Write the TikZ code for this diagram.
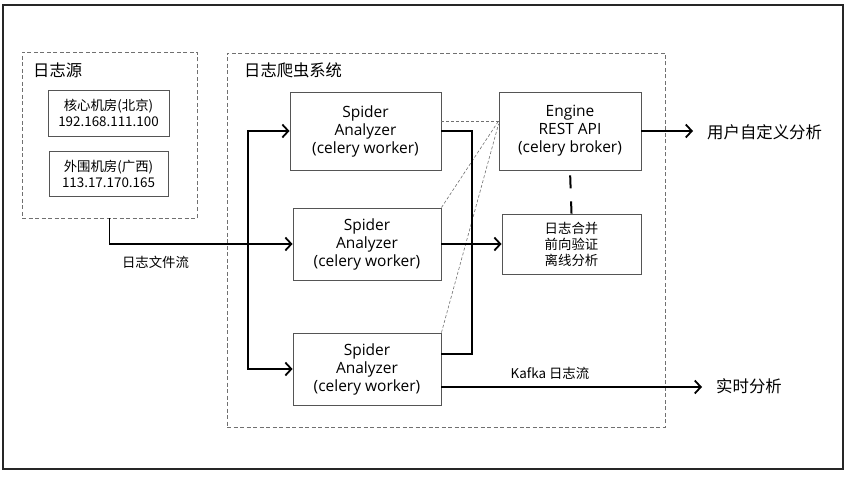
\documentclass[tikz,border=0pt]{standalone}
\usepackage{fontspec}
\setmainfont{Open Sans}
\newfontfamily\cjk{Noto Sans CJK SC}
\usetikzlibrary{arrows.meta}
\definecolor{boxline}{HTML}{555555}
\definecolor{dashline}{HTML}{707070}
\tikzset{
  x=1pt, y=-1pt,
  box/.style={draw=boxline, line width=0.9pt, rectangle, inner sep=0pt, align=center},
  spbox/.style={box, font=\fontsize{15.5}{18}\selectfont},
  cnbox/.style={box, font=\cjk\fontsize{13.4}{16}\selectfont},
  group/.style={draw=dashline, line width=0.8pt, dash pattern=on 4pt off 2.5pt, rectangle, inner sep=0pt},
  title/.style={font=\cjk\fontsize{16.3}{18}\selectfont, anchor=west, inner sep=0pt},
  lbl/.style={font=\cjk\fontsize{13.4}{16}\selectfont, inner sep=0pt},
  flow/.style={line width=1.8pt, black},
  arr/.style={flow, -{Straight Barb[length=6pt,width=13pt,line width=1.8pt]}},
  thin dash/.style={draw=dashline, line width=0.6pt, dash pattern=on 3pt off 2pt},
}
\begin{document}
\begin{tikzpicture}
\useasboundingbox (0,0) rectangle (850,478);
\node[draw=black!85, line width=1.2pt, rectangle, minimum width=840pt, minimum height=464pt, inner sep=0pt] (frame) at (423,237) {};

% groups
\node[group, minimum width=175pt, minimum height=166pt] (src) at (109.5,135) {};
\node[title] (srct) at (33,70) {日志源};
\node[group, minimum width=438pt, minimum height=374pt] (sys) at (446,240) {};
\node[title] (syst) at (244,70) {日志爬虫系统};

% source boxes
\node[cnbox, minimum width=121pt, minimum height=46pt] (hx) at (108.5,113) {核心机房(北京)\\192.168.111.100};
\node[cnbox, minimum width=119pt, minimum height=45pt] (ww) at (108.5,173.5) {外围机房(广西)\\113.17.170.165};

% spiders
\node[spbox, minimum width=151pt, minimum height=78pt] (sp1) at (365.5,131) {Spider\\Analyzer\\(celery worker)};
\node[spbox, minimum width=148pt, minimum height=72pt] (sp2) at (367,244) {Spider\\Analyzer\\(celery worker)};
\node[spbox, minimum width=148pt, minimum height=72pt] (sp3) at (367,369) {Spider\\Analyzer\\(celery worker)};

% engine and merge
\node[spbox, minimum width=142pt, minimum height=78pt] (eng) at (570,131) {Engine\\REST API\\(celery broker)};
\node[cnbox, minimum width=139pt, minimum height=60pt] (mg) at (571.5,244) {日志合并\\前向验证\\离线分析};

% outputs
\node[title, font=\cjk\fontsize{16.4}{18}\selectfont] (out1) at (707,132) {用户自定义分析};
\node[title, font=\cjk\fontsize{16.4}{18}\selectfont] (out2) at (716,386) {实时分析};
\coordinate (o1) at (693,131);
\coordinate (o2) at (702,387);

% labels
\node[lbl] (l1) at (155.5,262) {日志文件流};
\node[lbl] (l2) at (550,373) {Kafka 日志流};

% thin dashed links to engine
\coordinate (ej) at ([yshift=10pt]eng.west);
\draw[thin dash] ([yshift=10pt]sp1.east) -- (ej);
\draw[thin dash] (sp2.north east) -- (ej);
\draw[thin dash] (sp3.north east) -- ([yshift=7pt]eng.west);

% flows
\draw[arr] (src.south) |- (sp2.west);
\coordinate (tj) at (248,244);
\draw[arr] (tj) |- (sp1.west);
\draw[arr] (tj) |- (sp3.west);
\coordinate (rj) at (472,131);
\coordinate (c3) at ([yshift=15pt]sp3.east);
\draw[flow] (sp1.east) -- (rj) -- (rj |- c3) -- (c3);
\draw[arr] (sp2.east) -- (mg.west);
\draw[arr] (eng.east) -- (o1);
\draw[arr] ([yshift=-18pt]sp3.east) -- (o2);
\draw[line width=2pt, black, dash pattern=on 13pt off 13pt, dash phase=21pt] (eng.south) -- (mg.south |- mg.north);
\end{tikzpicture}
\end{document}
